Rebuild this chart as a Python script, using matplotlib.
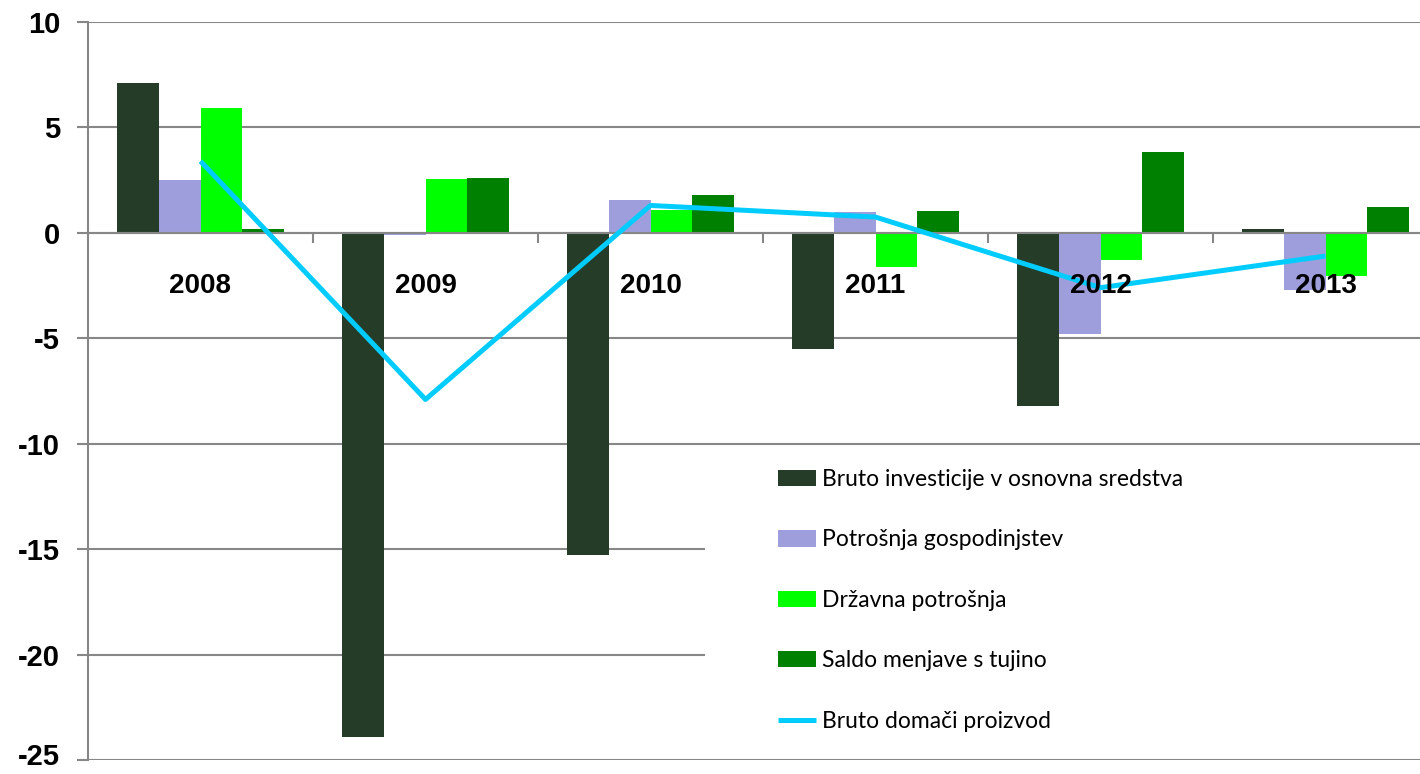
import matplotlib
matplotlib.use("Agg")
import matplotlib.pyplot as plt
import matplotlib.transforms as mtransforms
import numpy as np
from matplotlib.patches import Rectangle

# podatki (prispevki k rasti BDP, odstotne točke)
leta = ["2008", "2009", "2010", "2011", "2012", "2013"]
investicije = [7.1, -23.9, -15.3, -5.5, -8.2, 0.2]
gospodinjstva = [2.5, -0.1, 1.55, 1.0, -4.8, -2.7]
drzavna = [5.9, 2.55, 1.1, -1.6, -1.3, -2.05]
saldo = [0.2, 2.6, 1.8, 1.05, 3.85, 1.25]
bdp = [3.4, -7.9, 1.3, 0.75, -2.6, -1.1]

imena = ["Bruto investicije v osnovna sredstva", "Potrošnja gospodinjstev",
         "Državna potrošnja", "Saldo menjave s tujino", "Bruto domači proizvod"]
barve = ["#253d28", "#9e9edc", "#00ff00", "#008000"]
siva = "#878787"

plt.rcParams['font.family'] = ['Liberation Sans', 'DejaVu Sans']
plt.rcParams['axes.unicode_minus'] = False

fig = plt.figure(figsize=(14.2, 7.74), dpi=100)
ax = fig.add_axes([88 / 1420, 14 / 774, 1350 / 1420, 738 / 774])

x = np.arange(len(leta))
w = 0.185
serije = [investicije, gospodinjstva, drzavna, saldo]
for k, (vals, c) in enumerate(zip(serije, barve)):
    ax.bar(x + (k - 1.5) * w, vals, width=w, color=c, label=imena[k], zorder=2)
ax.plot(x, bdp, color="#00ccff", lw=3.6, label=imena[4], zorder=3, solid_capstyle='butt')

ax.set_xlim(-0.5, 5.5)
ax.set_ylim(-25, 10)
ax.set_yticks(np.arange(-25, 11, 5))
ax.yaxis.grid(True, color=siva, lw=1.5)
ax.yaxis.set_zorder(0.5)
ax.xaxis.set_zorder(4)

# bela podlaga za legendo (prekrije mrežo)
ax.add_patch(Rectangle((0.457, 0.004), 0.6, 0.42, transform=ax.transAxes,
                       facecolor="white", edgecolor="none", zorder=0.7))

for s in ["top", "right"]:
    ax.spines[s].set_visible(False)
ax.spines["left"].set_color(siva)
ax.spines["left"].set_linewidth(1.5)
ax.spines["bottom"].set_position(("data", 0))
ax.spines["bottom"].set_color(siva)
ax.spines["bottom"].set_linewidth(1.5)
ax.spines["bottom"].set_zorder(2.5)

ax.tick_params(axis="y", length=8, width=1.5, color=siva, pad=12,
               labelsize=21)
for t in ax.get_yticklabels():
    t.set_fontweight("bold")
# najnižja oznaka malo višje, da ni odrezana
spodnja = ax.yaxis.get_major_ticks()[0].label1
spodnja.set_transform(spodnja.get_transform()
                      + mtransforms.ScaledTranslation(0, 4 / 72, fig.dpi_scale_trans))

ax.set_xticks(x[:-1] + 0.5)
ax.set_xticklabels([])
ax.tick_params(axis="x", which="major", length=7, width=1.5, color=siva, direction="out")
ax.set_xticks(x, minor=True)
ax.set_xticklabels(leta, minor=True, fontsize=20, fontweight="bold")
ax.tick_params(axis="x", which="minor", length=0, pad=29)

h, l = ax.get_legend_handles_labels()
red = [1, 2, 3, 4, 0]
leg = ax.legend([h[i] for i in red], [l[i] for i in red],
                loc="upper left", bbox_to_anchor=(778 / 1420, 1 - 469 / 774),
                bbox_transform=fig.transFigure, frameon=False, borderpad=0,
                borderaxespad=0, handlelength=1.65, handleheight=0.72,
                handletextpad=0.25, labelspacing=1.72,
                prop={"family": ["Lato", "DejaVu Sans"], "size": 16.5})
leg.set_zorder(5)

fig.savefig("out.png", dpi=100)
